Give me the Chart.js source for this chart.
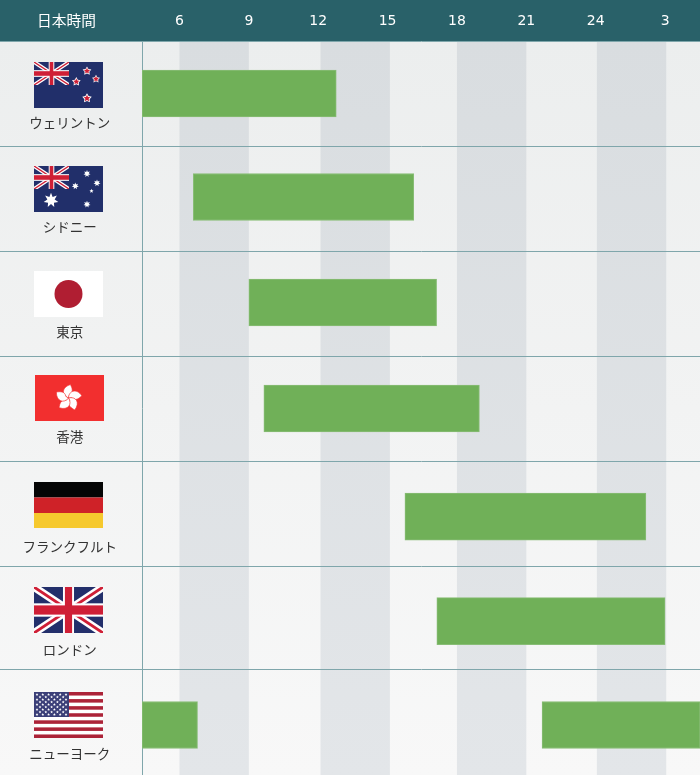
<!DOCTYPE html>
<html lang="ja">
<head>
<meta charset="utf-8">
<title>日本時間</title>
<script src="https://cdn.jsdelivr.net/npm/chart.js@4"></script>
<style>
    html, body { margin: 0; padding: 0; background: #f3f4f4; }
    canvas { display: block; }
</style>
</head>
<body>
<canvas id="grafico" width="700" height="775"></canvas>
<script>
// Ciudades y horarios (hora de Japón; más de 24 = madrugada del día siguiente)
const cities = ['ウェリントン', 'シドニー', '東京', '香港', 'フランクフルト', 'ロンドン', 'ニューヨーク'];
const sessionStart = [4.38, 6.6, 9.0, 9.65, 15.75, 17.13, 21.68];
const sessionEnd = [12.78, 16.13, 17.12, 18.97, 26.17, 27.0, 28.51];
const nyEarlyStart = [4.38];
const nyEarlyEnd = [6.78];
const hourTicks = [6, 9, 12, 15, 18, 21, 24, 27];
const shadedHours = [[6, 9], [12.1, 15.1], [18, 21], [24.05, 27.05]];
const rowLines = [0, 1, 2, 3, 4, 5, 5.99];
const barRows = [0.5, 1.486, 2.49, 3.5, 4.529, 5.524, 6.514];
const labelRows = [0.781, 1.771, 2.771, 3.771, 4.819, 5.8, 6.79];
const flagTops = [62, 166, 271, 375, 482, 587, 692];

const axisMin = 4.38;
const axisMax = 28.51;
const rowMax = 6.99;
const font = '"Noto Sans CJK JP", sans-serif';

const barStyle = {
    grouped: false,
    barThickness: 47,
    backgroundColor: '#70b058',
    borderColor: '#88bd76',
    borderWidth: 1,
    borderSkipped: false
};

function star(ctx, cx, cy, r, points, inner) {
    ctx.beginPath();
    for (let i = 0; i < points * 2; i++) {
        const rad = i % 2 === 0 ? r : r * inner;
        const a = -Math.PI / 2 + i * Math.PI / points;
        ctx.lineTo(cx + Math.cos(a) * rad, cy + Math.sin(a) * rad);
    }
    ctx.closePath();
    ctx.fill();
}

function unionJack(ctx, x, y, w, h) {
    ctx.save();
    ctx.beginPath();
    ctx.rect(x, y, w, h);
    ctx.clip();
    ctx.fillStyle = '#232f6b';
    ctx.fillRect(x, y, w, h);
    ctx.strokeStyle = '#fff';
    ctx.lineWidth = h * 0.17;
    ctx.beginPath();
    ctx.moveTo(x, y); ctx.lineTo(x + w, y + h);
    ctx.moveTo(x + w, y); ctx.lineTo(x, y + h);
    ctx.stroke();
    ctx.strokeStyle = '#cf1f36';
    ctx.lineWidth = h * 0.06;
    ctx.stroke();
    ctx.fillStyle = '#fff';
    ctx.fillRect(x + w / 2 - w * 0.08, y, w * 0.16, h);
    ctx.fillRect(x, y + h / 2 - h * 0.145, w, h * 0.29);
    ctx.fillStyle = '#cf1f36';
    ctx.fillRect(x + w / 2 - w * 0.052, y, w * 0.104, h);
    ctx.fillRect(x, y + h / 2 - h * 0.1, w, h * 0.2);
    ctx.restore();
}

// Banderas, una función por ciudad
const flags = [
    function (ctx, x, y) { // Nueva Zelanda
        ctx.fillStyle = '#212f6a';
        ctx.fillRect(x, y, 69, 46);
        unionJack(ctx, x, y, 35, 23);
        [[53, 9, 4.6], [42.3, 19.7, 4.6], [62, 17, 4.2], [53, 36.3, 5]].forEach(function (s) {
            ctx.fillStyle = '#fff';
            star(ctx, x + s[0], y + s[1], s[2], 5, 0.55);
            ctx.fillStyle = '#cf1f36';
            star(ctx, x + s[0], y + s[1], s[2] * 0.7, 5, 0.5);
        });
    },
    function (ctx, x, y) { // Australia
        ctx.fillStyle = '#212f6a';
        ctx.fillRect(x, y, 69, 46);
        unionJack(ctx, x, y, 35, 23);
        ctx.fillStyle = '#fff';
        star(ctx, x + 17, y + 34.3, 7.5, 7, 0.5);
        [[53, 7.7, 3.6], [41.3, 20, 3.6], [63, 17, 3.6], [53, 38.3, 3.6]].forEach(function (s) {
            star(ctx, x + s[0], y + s[1], s[2], 7, 0.5);
        });
        star(ctx, x + 57.5, y + 25, 2.2, 5, 0.45);
    },
    function (ctx, x, y) { // Japón
        ctx.fillStyle = '#fff';
        ctx.fillRect(x, y, 69, 46);
        ctx.fillStyle = '#b01e32';
        ctx.beginPath();
        ctx.arc(x + 34.5, y + 23, 14, 0, Math.PI * 2);
        ctx.fill();
    },
    function (ctx, x, y) { // Hong Kong
        ctx.fillStyle = '#f22f2f';
        ctx.fillRect(x + 1, y, 69, 46);
        ctx.fillStyle = '#fff';
        ctx.strokeStyle = '#f22f2f';
        ctx.lineWidth = 0.6;
        for (let i = 0; i < 5; i++) {
            ctx.save();
            ctx.translate(x + 34.5, y + 23);
            ctx.rotate(i * Math.PI * 2 / 5 + 0.07);
            ctx.beginPath();
            ctx.moveTo(0, 0);
            ctx.bezierCurveTo(-7, -2, -8, -10, 1, -13.5);
            ctx.bezierCurveTo(3, -10, 5, -6, 0.5, -3);
            ctx.closePath();
            ctx.fill();
            ctx.stroke();
            ctx.restore();
        }
    },
    function (ctx, x, y) { // Alemania
        ctx.fillStyle = '#050505';
        ctx.fillRect(x, y, 69, 15.5);
        ctx.fillStyle = '#cf2228';
        ctx.fillRect(x, y + 15.5, 69, 15.5);
        ctx.fillStyle = '#f6c92e';
        ctx.fillRect(x, y + 31, 69, 15);
    },
    function (ctx, x, y) { // Reino Unido
        unionJack(ctx, x, y, 69, 46);
    },
    function (ctx, x, y) { // Estados Unidos
        ctx.fillStyle = '#fff';
        ctx.fillRect(x, y, 69, 46);
        ctx.fillStyle = '#ac2338';
        for (let i = 0; i < 7; i++) {
            ctx.fillRect(x, y + i * 46 / 6.5, 69, 46 / 13);
        }
        ctx.fillStyle = '#3b3f78';
        ctx.fillRect(x, y, 35, 25);
        ctx.fillStyle = '#fff';
        for (let row = 0; row < 9; row++) {
            const count = row % 2 === 0 ? 6 : 5;
            for (let col = 0; col < count; col++) {
                const sx = x + (row % 2 === 0 ? 3 : 6) + col * 5.8;
                star(ctx, sx, y + 2.5 + row * 2.5, 1.4, 5, 0.5);
            }
        }
    }
];

// Fondo, cabecera y columnas sombreadas, antes de la rejilla
const fondo = {
    id: 'fondo',
    beforeDraw(chart) {
        const ctx = chart.ctx;
        const area = chart.chartArea;
        const xScale = chart.scales.x;

        const bg = ctx.createLinearGradient(0, area.top, 0, area.bottom);
        bg.addColorStop(0, '#eceeee');
        bg.addColorStop(1, '#f8f8f8');
        ctx.fillStyle = bg;
        ctx.fillRect(0, area.top, chart.width, area.bottom - area.top);

        const band = ctx.createLinearGradient(0, area.top, 0, area.bottom);
        band.addColorStop(0, '#d9dde0');
        band.addColorStop(1, '#e3e6e9');
        ctx.fillStyle = band;
        shadedHours.forEach(function (h) {
            const left = xScale.getPixelForValue(h[0]);
            const right = xScale.getPixelForValue(h[1]);
            ctx.fillRect(left, area.top, right - left, area.bottom - area.top);
        });

        ctx.fillStyle = '#296169';
        ctx.fillRect(0, 0, chart.width, area.top);
    }
};

// Banderas y título de la primera columna
const banderas = {
    id: 'banderas',
    afterDraw(chart) {
        const ctx = chart.ctx;
        ctx.save();
        flags.forEach(function (draw, i) {
            draw(ctx, 34, flagTops[i]);
        });
        ctx.fillStyle = '#fff';
        ctx.font = '14.7px ' + font;
        ctx.textAlign = 'center';
        ctx.textBaseline = 'middle';
        ctx.fillText('日本時間', 66.5, 20);
        ctx.restore();
    }
};

const ctx = document.getElementById('grafico').getContext('2d');

new Chart(ctx, {
    type: 'bar',
    data: {
        datasets: [{
            label: '取引時間',
            data: cities.map((c, i) => ({ x: [sessionStart[i], sessionEnd[i]], y: barRows[i] })),
            ...barStyle
        }, {
            label: 'ニューヨーク',
            data: nyEarlyStart.map((s, i) => ({ x: [s, nyEarlyEnd[i]], y: barRows[6] })),
            ...barStyle
        }]
    },
    options: {
        indexAxis: 'y',
        responsive: false,
        animation: false,
        layout: { padding: 0 },
        plugins: {
            legend: { display: false },
            tooltip: { enabled: false }
        },
        scales: {
            x: {
                type: 'linear',
                position: 'top',
                min: axisMin,
                max: axisMax,
                afterBuildTicks(scale) {
                    scale.ticks = hourTicks.map(h => ({ value: h }));
                },
                afterFit(scale) {
                    scale.height = 41;
                    scale.paddingLeft = 0;
                    scale.paddingRight = 0;
                },
                grid: { display: false, drawTicks: false },
                border: { display: false },
                ticks: {
                    color: '#fff',
                    padding: 11,
                    maxRotation: 0,
                    autoSkip: false,
                    font: { family: '"DejaVu Sans"', size: 14 },
                    callback: v => (v > 24 ? v - 24 : v)
                }
            },
            // nombres de ciudades
            yCity: {
                type: 'linear',
                position: 'left',
                weight: 1,
                reverse: true,
                offset: false,
                min: 0,
                max: rowMax,
                afterBuildTicks(scale) {
                    scale.ticks = labelRows.map(v => ({ value: v }));
                },
                afterFit(scale) {
                    // sin esto el padding de las etiquetas recorta el área del gráfico
                    scale.width = 142;
                    scale.paddingTop = 0;
                    scale.paddingBottom = 0;
                },
                grid: { display: false, drawTicks: false, offset: false },
                border: { display: false },
                ticks: {
                    color: '#333',
                    crossAlign: 'center',
                    padding: 25,
                    autoSkip: false,
                    font: { family: font, size: 13.5 },
                    callback: function (v, i) { return cities[i]; }
                }
            },
            // filas de la tabla
            y: {
                type: 'linear',
                position: 'left',
                weight: 0,
                reverse: true,
                offset: false,
                min: 0,
                max: rowMax,
                afterBuildTicks(scale) {
                    scale.ticks = rowLines.map(v => ({ value: v }));
                },
                afterFit(scale) {
                    scale.width = 0;
                },
                grid: { color: '#7fa6ab', lineWidth: 1, tickLength: 142, offset: false },
                border: { display: true, color: '#7fa6ab', width: 1 },
                ticks: { display: false }
            }
        }
    },
    plugins: [fondo, banderas]
});
</script>
</body>
</html>
